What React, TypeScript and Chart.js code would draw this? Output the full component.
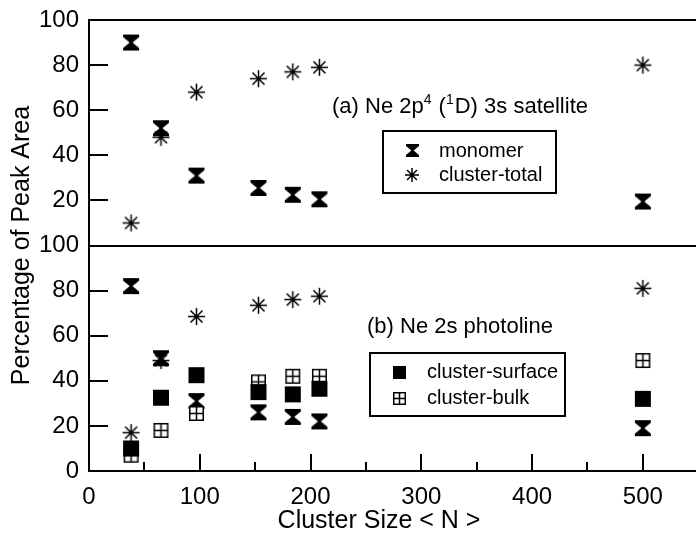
import React, { useEffect, useRef } from 'react';
import { Chart, registerables } from 'chart.js';

Chart.register(...registerables);

// ---------- data ----------
const clusterSizes = [38, 65, 97, 153, 184, 208, 500];
// (a) Ne 2p4 (1D) 3s satellite
const satelliteMonomer = [90, 52, 31, 25.5, 22.5, 20.5, 19.5];
const satelliteClusterTotal = [10, 48, 68, 74, 77, 79, 80];
// (b) Ne 2s photoline
const photolineMonomer = [82, 50, 31, 26, 24, 22, 19];
const photolineClusterTotal = [17, 49, 68.5, 73.5, 76, 77.5, 81];
const photolineSurface = [10, 32.5, 42.5, 35, 34, 36.5, 32];
const photolineBulk = [7, 18, 25.5, 39.5, 42, 42, 49];

const panelOffset = 100; // upper panel is stacked on top of the lower one
const yMin = 0;
const yMax = 200;
const yStep = 20;
const xMin = 0;
const xMax = 548;
const xMajorStep = 100;
const xMinorStep = 50;

const FONT = "'Liberation Sans', Arial, Helvetica, sans-serif";

function makeMarker(kind: string, s: number): HTMLCanvasElement {
  const pad = 2;
  const dim = Math.ceil(s + pad * 2);
  const c = document.createElement('canvas');
  c.width = dim;
  c.height = dim;
  const ctx = c.getContext('2d')!;
  const h = s / 2;
  ctx.translate(dim / 2, dim / 2);
  ctx.fillStyle = '#000';
  ctx.strokeStyle = '#000';
  if (kind === 'hourglass') {
    const n = h * 0.18;
    const b = h * 0.7;
    ctx.beginPath();
    ctx.moveTo(-h, -h);
    ctx.lineTo(h, -h);
    ctx.lineTo(h, -b);
    ctx.lineTo(n, 0);
    ctx.lineTo(h, b);
    ctx.lineTo(h, h);
    ctx.lineTo(-h, h);
    ctx.lineTo(-h, b);
    ctx.lineTo(-n, 0);
    ctx.lineTo(-h, -b);
    ctx.closePath();
    ctx.fill();
  } else if (kind === 'asterisk') {
    ctx.lineWidth = 1.5;
    ctx.beginPath();
    for (let i = 0; i < 4; i++) {
      const a = (i * Math.PI) / 4;
      ctx.moveTo(-h * Math.cos(a), -h * Math.sin(a));
      ctx.lineTo(h * Math.cos(a), h * Math.sin(a));
    }
    ctx.stroke();
    ctx.beginPath();
    ctx.arc(0, 0, Math.max(1.3, h * 0.2), 0, Math.PI * 2);
    ctx.fill();
  } else if (kind === 'square') {
    ctx.fillRect(-h, -h, s, s);
  } else if (kind === 'crossed') {
    ctx.fillStyle = '#fff';
    ctx.fillRect(-h, -h, s, s);
    ctx.lineWidth = 1.5;
    ctx.strokeRect(-h + 0.75, -h + 0.75, s - 1.5, s - 1.5);
    ctx.beginPath();
    ctx.moveTo(0, -h);
    ctx.lineTo(0, h);
    ctx.moveTo(-h, 0);
    ctx.lineTo(h, 0);
    ctx.stroke();
  }
  return c;
}

function toPoints(values: number[], offset: number) {
  return clusterSizes.map((x, i) => ({ x, y: values[i] + offset }));
}

function drawRich(
  ctx: CanvasRenderingContext2D,
  parts: { t: string; sup?: boolean }[],
  x: number,
  baseline: number,
  size: number,
  supSize: number
) {
  let cx = x;
  ctx.textAlign = 'left';
  ctx.textBaseline = 'alphabetic';
  for (const p of parts) {
    ctx.font = `${p.sup ? supSize : size}px ${FONT}`;
    const y = p.sup ? baseline - size * 0.42 : baseline;
    ctx.fillText(p.t, cx, y);
    cx += ctx.measureText(p.t).width + (p.sup ? 1 : 0);
  }
}

export default function App() {
  const ref = useRef<HTMLCanvasElement>(null);

  useEffect(() => {
    const hourglass = makeMarker('hourglass', 16);
    const asterisk = makeMarker('asterisk', 17);
    const square = makeMarker('square', 16);
    const crossed = makeMarker('crossed', 15);
    const legendMarkers: Record<string, HTMLCanvasElement> = {
      hourglass: makeMarker('hourglass', 13),
      asterisk: makeMarker('asterisk', 14),
      square: makeMarker('square', 13),
      crossed: makeMarker('crossed', 13),
    };

    const line = (ctx: CanvasRenderingContext2D, x1: number, y1: number, x2: number, y2: number) => {
      ctx.beginPath();
      ctx.moveTo(x1, y1);
      ctx.lineTo(x2, y2);
      ctx.stroke();
    };

    const decor = {
      id: 'decor',
      beforeDatasetsDraw(chart: any) {
        const { ctx, chartArea: ca, scales } = chart;
        const xs = scales.x;
        const ys = scales.y;
        ctx.save();
        ctx.strokeStyle = '#000';
        ctx.lineWidth = 2;
        // frame lines: bottom, panel separator, top
        [yMin, panelOffset, yMax].forEach((v) => {
          const py = Math.round(ys.getPixelForValue(v));
          line(ctx, ca.left - 1, py, ca.right + 2, py);
        });
        // left axis
        line(ctx, ca.left, ys.getPixelForValue(yMax) - 1, ca.left, ys.getPixelForValue(yMin) + 1);
        // y ticks (inward)
        for (let v = yMin + yStep; v < yMax; v += yStep) {
          if (v === panelOffset) continue;
          const py = Math.round(ys.getPixelForValue(v));
          line(ctx, ca.left, py, ca.left + 19, py);
        }
        // x ticks on bottom axis
        const by = ys.getPixelForValue(yMin);
        for (let v = xMinorStep; v <= xMax; v += xMinorStep) {
          const px = Math.round(xs.getPixelForValue(v));
          const len = v % xMajorStep === 0 ? 17 : 9;
          line(ctx, px, by, px, by - len);
        }
        ctx.restore();
      },
      afterDatasetsDraw(chart: any) {
        const { ctx } = chart;
        const ds = chart.data.datasets;
        ctx.save();
        ctx.fillStyle = '#000';
        ctx.strokeStyle = '#000';

        // annotations
        drawRich(
          ctx,
          [{ t: '(a) Ne 2p' }, { t: '4', sup: true }, { t: ' (' }, { t: '1', sup: true }, { t: 'D) 3s satellite' }],
          332,
          113,
          22,
          14
        );
        drawRich(ctx, [{ t: '(b) Ne 2s photoline' }], 367, 333, 22, 14);

        // legends
        const drawLegend = (
          box: [number, number, number, number],
          items: { label: string; marker: string; mx: number; my: number; tx: number; ty: number }[]
        ) => {
          ctx.lineWidth = 2;
          ctx.strokeRect(box[0], box[1], box[2], box[3]);
          ctx.font = `20px ${FONT}`;
          ctx.textAlign = 'left';
          ctx.textBaseline = 'alphabetic';
          items.forEach((it) => {
            const img = legendMarkers[it.marker];
            ctx.drawImage(img, Math.round(it.mx - img.width / 2), Math.round(it.my - img.height / 2));
            ctx.fillText(it.label, it.tx, it.ty);
          });
        };
        drawLegend([383, 131, 173, 62], [
          { label: ds[5].label, marker: 'hourglass', mx: 412, my: 150, tx: 439, ty: 157 },
          { label: ds[4].label, marker: 'asterisk', mx: 412, my: 175, tx: 439, ty: 181 },
        ]);
        drawLegend([370, 353, 195, 63], [
          { label: ds[0].label, marker: 'square', mx: 399, my: 372, tx: 427, ty: 378 },
          { label: ds[1].label, marker: 'crossed', mx: 399, my: 398, tx: 427, ty: 404 },
        ]);

        // x-axis title
        ctx.font = `25px ${FONT}`;
        ctx.textAlign = 'center';
        ctx.textBaseline = 'alphabetic';
        ctx.fillText('Cluster Size < N >', 379, 528);
        ctx.restore();
      },
    };

    const common = { showLine: false, pointRadius: 8, pointHoverRadius: 8 };

    const chart = new Chart(ref.current!, {
      type: 'scatter',
      data: {
        datasets: [
          { ...common, label: 'cluster-surface', data: toPoints(photolineSurface, 0), pointStyle: square as any },
          { ...common, label: 'cluster-bulk', data: toPoints(photolineBulk, 0), pointStyle: crossed as any },
          { ...common, label: 'cluster-total', data: toPoints(photolineClusterTotal, 0), pointStyle: asterisk as any },
          { ...common, label: 'monomer', data: toPoints(photolineMonomer, 0), pointStyle: hourglass as any },
          { ...common, label: 'cluster-total', data: toPoints(satelliteClusterTotal, panelOffset), pointStyle: asterisk as any },
          { ...common, label: 'monomer', data: toPoints(satelliteMonomer, panelOffset), pointStyle: hourglass as any },
        ],
      },
      options: {
        animation: false,
        responsive: false,
        devicePixelRatio: 1,
        layout: { autoPadding: false, padding: { top: 20, right: 0, bottom: 0, left: 0 } },
        plugins: {
          legend: { display: false },
          tooltip: { enabled: false },
        },
        scales: {
          x: {
            type: 'linear',
            min: xMin,
            max: xMax,
            grid: { display: false, drawTicks: false },
            border: { display: false },
            ticks: {
              stepSize: xMajorStep,
              includeBounds: false,
              autoSkip: false,
              color: '#000',
              font: { family: FONT, size: 24 },
              padding: 12,
              maxRotation: 0,
            },
            afterBuildTicks: (scale: any) => {
              scale.ticks = scale.ticks.filter((t: any) => t.value % xMajorStep === 0);
            },
            afterFit: (scale: any) => {
              scale.height = 67;
              scale.paddingRight = 0;
              scale.paddingLeft = 0;
            },
          },
          y: {
            type: 'linear',
            min: yMin,
            max: yMax,
            grid: { display: false, drawTicks: false },
            border: { display: false },
            ticks: {
              stepSize: yStep,
              color: '#000',
              font: { family: FONT, size: 24 },
              padding: 10,
              callback: (v: any) => {
                const n = Number(v);
                return String(n > panelOffset ? n - panelOffset : n);
              },
            },
            title: {
              display: true,
              text: 'Percentage of Peak Area',
              color: '#000',
              font: { family: FONT, size: 25 },
              padding: { top: 7, bottom: 0 },
            },
            afterFit: (scale: any) => {
              scale.width = 89;
              scale.paddingTop = 0;
              scale.paddingBottom = 0;
            },
          },
        },
      },
      plugins: [decor],
    } as any);

    return () => chart.destroy();
  }, []);

  return (
    <div style={{ position: 'fixed', left: 0, top: 0, width: 696, height: 538, background: '#fff' }}>
      <canvas ref={ref} width={696} height={538} style={{ display: 'block', width: 696, height: 538 }} />
    </div>
  );
}
